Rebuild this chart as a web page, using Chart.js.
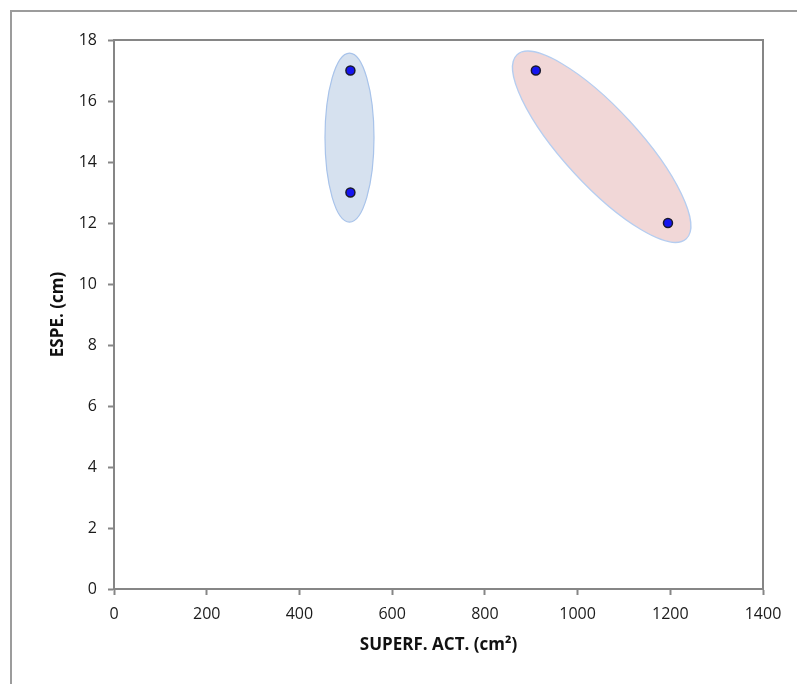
<!DOCTYPE html>
<html>
<head>
<meta charset="utf-8">
<script src="https://cdn.jsdelivr.net/npm/chart.js@4/dist/chart.umd.min.js"></script>
<style>
  html, body { margin: 0; padding: 0; background: #fff; overflow: hidden; }
  #wrap { position: relative; width: 797px; height: 684px; overflow: hidden; }
  #frame { position: absolute; left: 10px; top: 10px; width: 900px; height: 900px;
           border: 2px solid #9c9c9c; box-sizing: border-box; }
  canvas { position: absolute; left: 0; top: 0; }
</style>
</head>
<body>
<div id="wrap">
  <div id="frame"></div>
  <canvas id="c" width="797" height="684"></canvas>
</div>
<script>
// Measured samples: active surface (cm²) and thickness (cm)
const surfaceValues = [510, 510, 910, 1195];
const thicknessValues = [17, 13, 17, 12];

const xTicks = [0, 200, 400, 600, 800, 1000, 1200, 1400];
const yTicks = [0, 2, 4, 6, 8, 10, 12, 14, 16, 18];

const xTitle = 'SUPERF. ACT. (cm²)';
const yTitle = 'ESPE. (cm)';

const points = surfaceValues.map((x, i) => ({ x, y: thicknessValues[i] }));

const AXIS = '#868686';
const FONT = '"Open Sans", Lato, sans-serif';

// Grouping ellipses, centred in data units; radii in pixels
const groups = [
  { cx: 508, cy: 14.8, rx: 24.5, ry: 84.5, angle: 0, fill: '#d6e1ef', stroke: '#a8c3ea' },
  { cx: 1052, cy: 14.5, rx: 125, ry: 38, angle: 47.4, fill: '#f1d7d7', stroke: '#b5cdf0' }
];

const groupPlugin = {
  id: 'groups',
  beforeDatasetsDraw(chart) {
    const { ctx, chartArea: a, scales: { x, y } } = chart;
    ctx.save();
    // plot frame
    ctx.strokeStyle = AXIS;
    ctx.lineWidth = 2;
    ctx.strokeRect(a.left, a.top, a.right - a.left, a.bottom - a.top);
    groups.forEach(g => {
      ctx.beginPath();
      ctx.ellipse(x.getPixelForValue(g.cx), y.getPixelForValue(g.cy), g.rx, g.ry,
                  g.angle * Math.PI / 180, 0, Math.PI * 2);
      ctx.fillStyle = g.fill;
      ctx.fill();
      ctx.lineWidth = 1.2;
      ctx.strokeStyle = g.stroke;
      ctx.stroke();
    });
    ctx.restore();
  }
};

new Chart(document.getElementById('c'), {
  type: 'scatter',
  data: {
    datasets: [{
      data: points,
      pointRadius: 4.5,
      pointHoverRadius: 4.5,
      pointBackgroundColor: '#1515f0',
      pointBorderColor: '#1a1a2e',
      pointBorderWidth: 1.5
    }]
  },
  options: {
    responsive: false,
    animation: false,
    events: [],
    layout: { padding: { top: 40, right: 34, left: 0, bottom: 0 } },
    plugins: { legend: { display: false }, tooltip: { enabled: false } },
    scales: {
      x: {
        type: 'linear',
        min: 0, max: 1400,
        afterBuildTicks: s => { s.ticks = xTicks.map(v => ({ value: v })); },
        afterFit: s => { s.height = 95; },
        grid: { drawOnChartArea: false, tickLength: 6, tickColor: AXIS, tickWidth: 2 },
        border: { color: AXIS, width: 2 },
        ticks: { color: '#1a1a1a', font: { family: FONT, size: 16 }, padding: 10, maxRotation: 0,
                 callback: v => String(v) },
        title: { display: true, text: xTitle, color: '#111', font: { family: FONT, size: 17, weight: 'bold' },
                 padding: { top: 0, bottom: 29 } }
      },
      y: {
        type: 'linear',
        min: 0, max: 18,
        afterBuildTicks: s => { s.ticks = yTicks.map(v => ({ value: v })); },
        afterFit: s => { s.width = 114; },
        grid: { drawOnChartArea: false, tickLength: 6, tickColor: AXIS, tickWidth: 2 },
        border: { color: AXIS, width: 2 },
        ticks: { color: '#1a1a1a', font: { family: FONT, size: 16 }, padding: 11,
                 callback: v => String(v) },
        title: { display: true, text: yTitle, color: '#111', font: { family: FONT, size: 17, weight: 'bold' },
                 padding: { top: 48, bottom: 0 } }
      }
    }
  },
  plugins: [groupPlugin]
});
</script>
</body>
</html>
